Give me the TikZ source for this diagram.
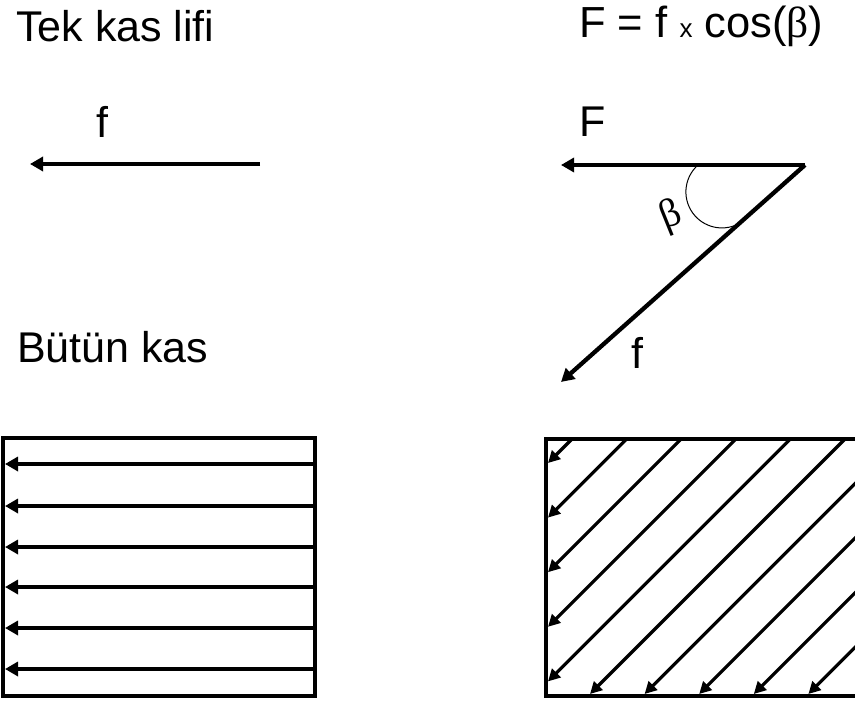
\documentclass[tikz,border=0pt]{standalone}
\usepackage{fontspec}
\setmainfont{Liberation Sans}
\newfontfamily\symfont{Liberation Serif}
\usetikzlibrary{arrows.meta}
\begin{document}
\begin{tikzpicture}[x=1pt,y=-1pt,
  lbl/.style={inner sep=0pt, anchor=base west, font=\fontsize{43}{50}\selectfont},
  force/.style={line width=4.3pt, -{Triangle[length=13pt,width=14pt]}},
  fiber/.style={line width=3.2pt, -{Triangle[length=12pt,width=12pt]}},
  frame/.style={line width=4pt},
  anglearc/.style={line width=1pt}]
\useasboundingbox (0,0) rectangle (855,701);
\begin{scope}
\clip (0,0) rectangle (855,701);
% labels
\node[lbl] (t1) at (16,42) {Tek kas lifi};
\node[lbl] (t2) at (17,362) {Bütün kas};
\node[lbl] (lf) at (96,137) {f};
\node[lbl, font=\fontsize{43.5}{50}\selectfont] (form) at (579,38) {F = f {\fontsize{26}{30}\selectfont x} cos({\symfont β})};
\node[lbl] (lF) at (579,136) {F};
\node[lbl] (lf2) at (631,368) {f};
\node[inner sep=0pt, font=\fontsize{40}{46}\selectfont\symfont, rotate=22] (lb) at (671,217) {β};
% single fibre
\coordinate (a1) at (260,164);
\coordinate (a2) at (30,164);
\draw[force] (a1) -- (a2);
% pennate
\coordinate (V) at (805,165);
\coordinate (Ft) at (561,165);
\coordinate (ft) at (561,382);
\draw[force] (V) -- (Ft);
\draw[force] (V) -- (ft);
\coordinate (arcS) at (698,165);
\draw[anglearc] (arcS) arc[start angle=131.6, end angle=301, radius=36pt];
% left box
\coordinate (L1) at (3,438);
\coordinate (L2) at (315,696);
\draw[frame] (L1) rectangle (L2);
\foreach \y [count=\i] in {464,506,547,587,628,669}{
  \coordinate (ls\i) at (315,\y);
  \coordinate (le\i) at (5,\y);
  \draw[force] (ls\i) -- (le\i);
}
% right box
\coordinate (R1) at (546,439);
\coordinate (R2) at (880,696);
\draw[frame] (R1) rectangle (R2);
\foreach \k in {0,...,9}{
  \pgfmathsetmacro\c{1011+54.6*\k}
  \pgfmathsetmacro\sx{\c-439}
  \pgfmathsetmacro\ex{max(548,\c-694)}
  \pgfmathsetmacro\ey{\c-\ex}
  \coordinate (s\k) at (\sx,439);
  \coordinate (e\k) at (\ex,\ey);
  \draw[fiber] (s\k) -- (e\k);
}
\end{scope}
\end{tikzpicture}
\end{document}
